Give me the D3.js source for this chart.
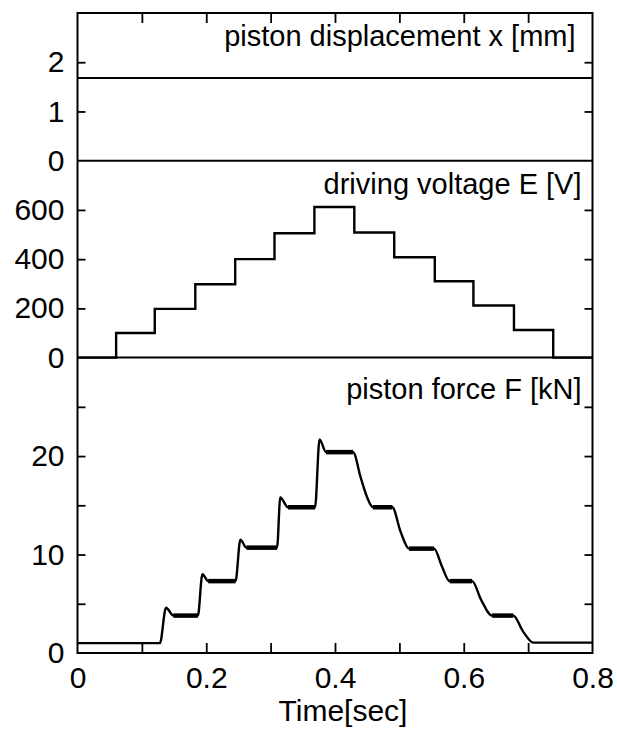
<!DOCTYPE html>
<html>
<head>
<meta charset="utf-8">
<script src="https://cdn.jsdelivr.net/npm/d3@7"></script>
<style>
  html, body { margin: 0; padding: 0; background: #fff; }
  svg { display: block; }
  text { font-family: "Liberation Sans", Arial, Helvetica, sans-serif; fill: #000; }
</style>
</head>
<body>
<svg id="chart" width="617" height="729"></svg>
<script>
// ---------- data ----------
const xTickValues = [0.1, 0.2, 0.3, 0.4, 0.5, 0.6, 0.7];
const xLabelValues = [0, 0.2, 0.4, 0.6, 0.8];

const dispTicks = [1, 2];
const dispLabels = [0, 1, 2];
const voltTicks = [200, 400, 600];
const voltLabels = [0, 200, 400, 600];
const forceTicks = [5, 10, 15, 20, 25];
const forceLabels = [0, 10, 20];

// piston displacement x [mm]
const tDisp = [0, 0.8];
const xDisp = [1.68, 1.68];

// driving voltage E [V] (value holds from t[i] to t[i+1])
const tVolt = [0, 0.060, 0.120, 0.183, 0.245, 0.306, 0.368, 0.430, 0.492, 0.555, 0.615, 0.678, 0.739, 0.8];
const eVolt = [0, 100, 198, 298, 400, 505, 612, 508, 408, 310, 212, 112, 0, 0];

// piston force F [kN]
const tForce = [0, 0.128, 0.1375, 0.149, 0.187, 0.194, 0.203, 0.2455, 0.253, 0.2625, 0.310, 0.315, 0.327, 0.369, 0.376, 0.386, 0.428, 0.440, 0.450, 0.459, 0.489, 0.502, 0.515, 0.554, 0.566, 0.578, 0.613, 0.627, 0.644, 0.677, 0.692, 0.708, 0.8];
const fForce = [1.0, 1.0, 4.6, 3.8, 3.8, 8.0, 7.3, 7.3, 11.5, 10.7, 10.7, 15.8, 14.8, 14.8, 21.7, 20.4, 20.4, 17.8, 15.8, 14.8, 14.8, 12.3, 10.6, 10.6, 8.8, 7.3, 7.3, 5.4, 3.8, 3.8, 2.2, 1.05, 1.05];

// ---------- layout ----------
const L = 77.5, R = 592.5, T = 13, B = 653;
const unit = (B - T) / 13;
const p1 = [T, T + 3 * unit];
const p2 = [p1[1], p1[1] + 4 * unit];
const p3 = [p2[1], B];

const svg = d3.select("#chart");
const FS = 30;

const x = d3.scaleLinear().domain([0, 0.8]).range([L, R]);
const y1 = d3.scaleLinear().domain([0, 3]).range([p1[1], p1[0]]);
const y2 = d3.scaleLinear().domain([0, 800]).range([p2[1], p2[0]]);
const y3 = d3.scaleLinear().domain([0, 30]).range([p3[1], p3[0]]);

// ---------- ticks (inward) ----------
function styleAxis(g) {
  g.select(".domain").remove();
  g.selectAll("line").attr("stroke", "#000").attr("stroke-width", 1.8);
  g.selectAll("text").style("font-size", FS + "px").attr("fill", "#000");
}

svg.append("g").attr("transform", `translate(0,${B})`)
  .call(d3.axisBottom(x).tickValues(xTickValues).tickSize(-10).tickFormat(""))
  .call(styleAxis);
svg.append("g").attr("transform", `translate(0,${T})`)
  .call(d3.axisTop(x).tickValues(xTickValues).tickSize(-10).tickFormat(""))
  .call(styleAxis);
svg.append("g").attr("transform", `translate(0,${B})`)
  .call(d3.axisBottom(x).tickValues(xLabelValues).tickSize(0).tickPadding(14)
    .tickFormat(d => d === 0 ? "0" : d3.format(".1f")(d)))
  .call(styleAxis);

const panels = [
  { y: y1, ticks: dispTicks, labels: dispLabels },
  { y: y2, ticks: voltTicks, labels: voltLabels },
  { y: y3, ticks: forceTicks, labels: forceLabels }
];
panels.forEach(p => {
  svg.append("g").attr("transform", `translate(${L},0)`)
    .call(d3.axisLeft(p.y).tickValues(p.ticks).tickSize(-8).tickFormat(""))
    .call(styleAxis);
  svg.append("g").attr("transform", `translate(${R},0)`)
    .call(d3.axisRight(p.y).tickValues(p.ticks).tickSize(-8).tickFormat(""))
    .call(styleAxis);
  svg.append("g").attr("transform", `translate(${L},0)`)
    .call(d3.axisLeft(p.y).tickValues(p.labels).tickSize(0).tickPadding(13).tickFormat(d3.format("d")))
    .call(styleAxis);
});

// ---------- frames ----------
svg.append("rect").attr("x", L).attr("y", T).attr("width", R - L).attr("height", B - T)
  .attr("fill", "none").attr("stroke", "#000").attr("stroke-width", 2);
[p1[1], p2[1]].forEach(yy => {
  svg.append("line").attr("x1", L).attr("x2", R).attr("y1", yy).attr("y2", yy)
    .attr("stroke", "#000").attr("stroke-width", 2);
});

// ---------- series ----------
const dispLine = d3.line().x((d, i) => x(tDisp[i])).y(d => y1(d));
svg.append("path").attr("d", dispLine(xDisp))
  .attr("fill", "none").attr("stroke", "#000").attr("stroke-width", 2);

const voltLine = d3.line().x((d, i) => x(tVolt[i])).y(d => y2(d)).curve(d3.curveStepAfter);
svg.append("path").attr("d", voltLine(eVolt))
  .attr("fill", "none").attr("stroke", "#000").attr("stroke-width", 2.4);

const forceLine = d3.line().x((d, i) => x(tForce[i])).y(d => y3(d)).curve(d3.curveMonotoneX);
svg.append("path").attr("d", forceLine(fForce))
  .attr("fill", "none").attr("stroke", "#000").attr("stroke-width", 2.4)
  .attr("stroke-linejoin", "round");

// plateaus under load vibrate: drawn as a thicker band
const plateaus = d3.range(fForce.length - 1)
  .filter(i => fForce[i] === fForce[i + 1] && fForce[i] > 2);
svg.append("g").selectAll("line").data(plateaus).join("line")
  .attr("x1", i => x(tForce[i])).attr("x2", i => x(tForce[i + 1]))
  .attr("y1", i => y3(fForce[i])).attr("y2", i => y3(fForce[i]))
  .attr("stroke", "#000").attr("stroke-width", 4.5);

// ---------- panel titles ----------
const TFS = 29;
const titles = [
  { text: "piston displacement x [mm]", y: p1[0] + 33, xEnd: R - 17 },
  { text: "driving voltage E [V]", y: p2[0] + 33, xEnd: R - 11 },
  { text: "piston force F [kN]", y: p3[0] + 41, xEnd: R - 11 }
];
titles.forEach(t => {
  svg.append("text").attr("x", t.xEnd).attr("y", t.y)
    .attr("text-anchor", "end").style("font-size", TFS + "px").text(t.text);
});

// x axis title
svg.append("text").attr("x", 343).attr("y", 721)
  .attr("text-anchor", "middle").style("font-size", "30px").text("Time[sec]");
</script>
</body>
</html>
